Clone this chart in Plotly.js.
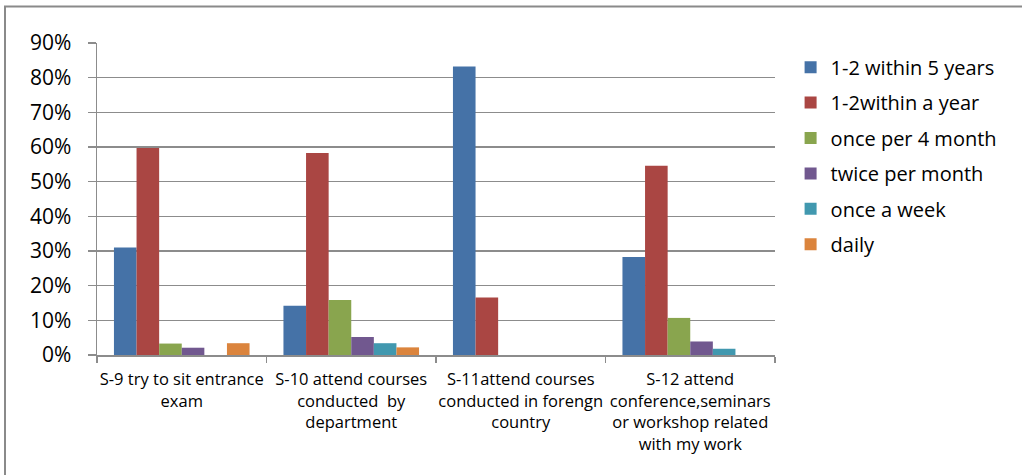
<!DOCTYPE html>
<html>
<head>
<meta charset="utf-8">
<script src="https://cdn.plot.ly/plotly-3.0.1.min.js"></script>
<style>
  html, body { margin: 0; padding: 0; background: #ffffff; }
  #chart { width: 1022px; height: 475px; }
</style>
</head>
<body>
<div id="chart"></div>
<script>
// Survey items (x-axis categories)
const categories = [
  "S-9 try to sit entrance<br>exam",
  "S-10 attend courses<br>conducted  by<br>department",
  "S-11attend courses<br>conducted in forengn<br>country",
  "S-12 attend<br>conference,seminars<br>or workshop related<br>with my work"
];

// Frequency answers (series names)
const seriesNames = [
  "1-2 within 5 years",
  "1-2within a year",
  "once per 4 month",
  "twice per month",
  "once a week",
  "daily"
];

// Share of respondents per answer, one array per series
const within5Years   = [0.31, 0.142, 0.832, 0.283];
const withinAYear    = [0.597, 0.583, 0.166, 0.546];
const oncePer4Month  = [0.033, 0.159, 0, 0.107];
const twicePerMonth  = [0.021, 0.052, 0, 0.039];
const onceAWeek      = [0, 0.034, 0, 0.018];
const daily          = [0.034, 0.022, 0, 0];

const seriesValues = [within5Years, withinAYear, oncePer4Month, twicePerMonth, onceAWeek, daily];
const seriesColors = ["#4572A7", "#AA4643", "#89A54E", "#71588F", "#4198AF", "#DB843D"];

const traces = seriesNames.map((name, i) => ({
  type: "bar",
  name: name,
  x: categories,
  y: seriesValues[i],
  legendgroup: "g" + i,
  marker: { color: seriesColors[i], line: { width: 0 } },
  hoverinfo: "name+y"
}));

const gridGray = "#8c8c8c";
const fontFamily = "'Open Sans', 'Noto Sans', 'DejaVu Sans', sans-serif";

const layout = {
  width: 1022,
  height: 475,
  margin: { l: 97, r: 247, t: 43, b: 120, pad: 0 },
  paper_bgcolor: "#ffffff",
  plot_bgcolor: "#ffffff",
  barmode: "group",
  bargap: 0.2,
  bargroupgap: 0,
  font: { family: fontFamily, color: "#000000" },
  showlegend: true,
  legend: {
    x: 1.023,
    xanchor: "left",
    y: 0.985,
    yanchor: "top",
    traceorder: "grouped",
    tracegroupgap: 6.4,
    font: { size: 20, family: fontFamily, color: "#000000" },
    itemwidth: 30,
    bgcolor: "rgba(0,0,0,0)"
  },
  xaxis: {
    type: "category",
    showgrid: false,
    showline: true,
    linecolor: gridGray,
    linewidth: 1.5,
    ticks: "outside",
    tickson: "boundaries",
    ticklen: 6,
    tickwidth: 1.5,
    tickcolor: gridGray,
    tickangle: 0,
    ticklabelstandoff: 9,
    tickfont: { size: 16.5, family: fontFamily, color: "#000000" },
    fixedrange: true
  },
  yaxis: {
    range: [0, 0.9],
    dtick: 0.1,
    tick0: 0,
    tickformat: ".0%",
    showgrid: true,
    gridcolor: gridGray,
    gridwidth: 1.5,
    zeroline: false,
    showline: true,
    linecolor: gridGray,
    linewidth: 1.5,
    ticks: "outside",
    ticklen: 8,
    tickwidth: 1.5,
    tickcolor: gridGray,
    ticklabelstandoff: 12,
    tickfont: { size: 21, family: fontFamily, color: "#000000" },
    fixedrange: true
  },
  shapes: [
    {
      // outer chart frame
      type: "rect",
      xref: "paper", yref: "paper",
      x0: (5 - 97) / 678, x1: 1.5,
      y0: -0.6, y1: 1 + (43 - 6.5) / 312,
      line: { color: "#8a8a8a", width: 2 },
      fillcolor: "rgba(0,0,0,0)",
      layer: "below"
    }
  ]
};

Plotly.newPlot("chart", traces, layout, { displayModeBar: false, staticPlot: true });
</script>
</body>
</html>
